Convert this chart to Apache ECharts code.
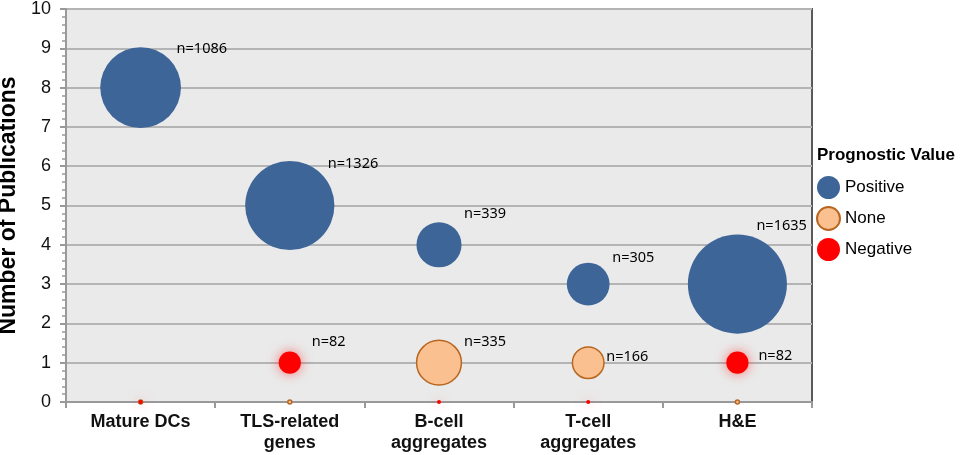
<!DOCTYPE html>
<html>
<head>
<meta charset="utf-8">
<title>Prognostic value bubble chart</title>
<script src="https://cdn.jsdelivr.net/npm/echarts@6/dist/echarts.min.js"></script>
<style>
  html, body { margin: 0; padding: 0; background: #fff; }
  #chart { width: 963px; height: 455px; }
</style>
</head>
<body>
<div id="chart"></div>
<script>
/* ---------- data ---------- */
var categories = ["Mature DCs", "TLS-related\ngenes", "B-cell\naggregates", "T-cell\naggregates", "H&E"];

var positivePubs = [8, 5, 4, 3, 3];
var positiveN    = [1086, 1326, 339, 305, 1635];

var nonePubs = [0, 0, 1, 1, 0];
var noneN    = [0, 0, 335, 166, 0];

var negativePubs = [0, 1, 0, 0, 1];
var negativeN    = [0, 82, 0, 0, 82];

var yTicks = [0, 1, 2, 3, 4, 5, 6, 7, 8, 9, 10];

/* hand-placed "n=" labels, pixel nudge from bubble centre */
var labelNudge = {
  Positive: [[36, -39], [38, -42], [25, -31], [24, -26], [19, -58]],
  None:     [[0, 0], [0, 0], [25, -21], [18, -6], [0, 0]],
  Negative: [[0, 0], [22, -21], [0, 0], [0, 0], [21, -7]]
};

/* ---------- helpers ---------- */
function bubbleSize(val) {
  var n = val[2];
  return n > 0 ? 2.45 * Math.sqrt(n) : 4;
}

function makeSeries(name, pubs, ns, itemStyle) {
  var data = pubs.map(function(p, i) {
    var off = labelNudge[name][i];
    return {
      value: [i, p, ns[i]],
      label: {
        show: ns[i] > 0,
        position: "inside",
        align: "left",
        verticalAlign: "middle",
        offset: off
      }
    };
  });
  itemStyle.opacity = 1;
  return {
    name: name,
    type: "scatter",
    data: data,
    symbolSize: bubbleSize,
    itemStyle: itemStyle,
    label: {
      formatter: function(p) { return "n=" + p.value[2]; },
      color: "#000",
      fontFamily: "Noto Sans",
      fontSize: 14.5
    },
    emphasis: { disabled: true }
  };
}

/* ---------- chart ---------- */
var chart = echarts.init(document.getElementById("chart"));

chart.setOption({
  animation: false,
  title: {
    text: "Prognostic Value",
    left: 812,
    top: 142,
    textStyle: { fontFamily: "Liberation Sans", fontWeight: "bold", fontSize: 17, color: "#000" }
  },
  legend: {
    orient: "vertical",
    left: 811,
    top: 171,
    itemWidth: 23,
    itemHeight: 23,
    itemGap: 7,
    icon: "circle",
    data: ["Positive", "None", "Negative"],
    textStyle: { fontFamily: "Liberation Sans", fontSize: 17, color: "#000" }
  },
  grid: {
    left: 66,
    right: 151,
    top: 9,
    bottom: 53,
    outerBoundsMode: "none",
    containLabel: false,
    show: true,
    backgroundColor: "#EAEAEA",
    borderColor: "#5A5A5A",
    borderWidth: 2
  },
  xAxis: {
    type: "category",
    data: categories,
    boundaryGap: true,
    axisLine: { lineStyle: { color: "#999", width: 2 } },
    axisTick: { show: true, length: 6, lineStyle: { color: "#999", width: 2 } },
    axisLabel: {
      color: "#111",
      fontFamily: "Liberation Sans",
      fontWeight: "bold",
      fontSize: 18,
      lineHeight: 21,
      margin: 10
    },
    splitLine: { show: false }
  },
  yAxis: {
    type: "value",
    min: yTicks[0],
    max: yTicks[yTicks.length - 1],
    interval: 1,
    name: "Number of Publications",
    nameLocation: "middle",
    nameGap: 39,
    nameTextStyle: { fontFamily: "Liberation Sans", fontWeight: "bold", fontSize: 23, color: "#000" },
    axisLine: { show: true, lineStyle: { color: "#999", width: 2 } },
    axisTick: { show: true, length: 6, lineStyle: { color: "#999", width: 2 } },
    minorTick: { show: true, splitNumber: 5, length: 4, lineStyle: { color: "#999", width: 1.5 } },
    axisLabel: {
      color: "#111",
      fontFamily: "Liberation Sans",
      fontSize: 18,
      margin: 15
    },
    splitLine: { lineStyle: { color: "#B4B4B4", width: 2 } }
  },
  series: [
    makeSeries("Positive", positivePubs, positiveN, { color: "#3D6598" }),
    makeSeries("None", nonePubs, noneN, { color: "#FAC090", borderColor: "#B8661F", borderWidth: 1.5 }),
    makeSeries("Negative", negativePubs, negativeN, {
      color: "#FF0000",
      shadowBlur: 12,
      shadowColor: "rgba(255, 0, 0, 0.5)"
    })
  ]
});
</script>
</body>
</html>
